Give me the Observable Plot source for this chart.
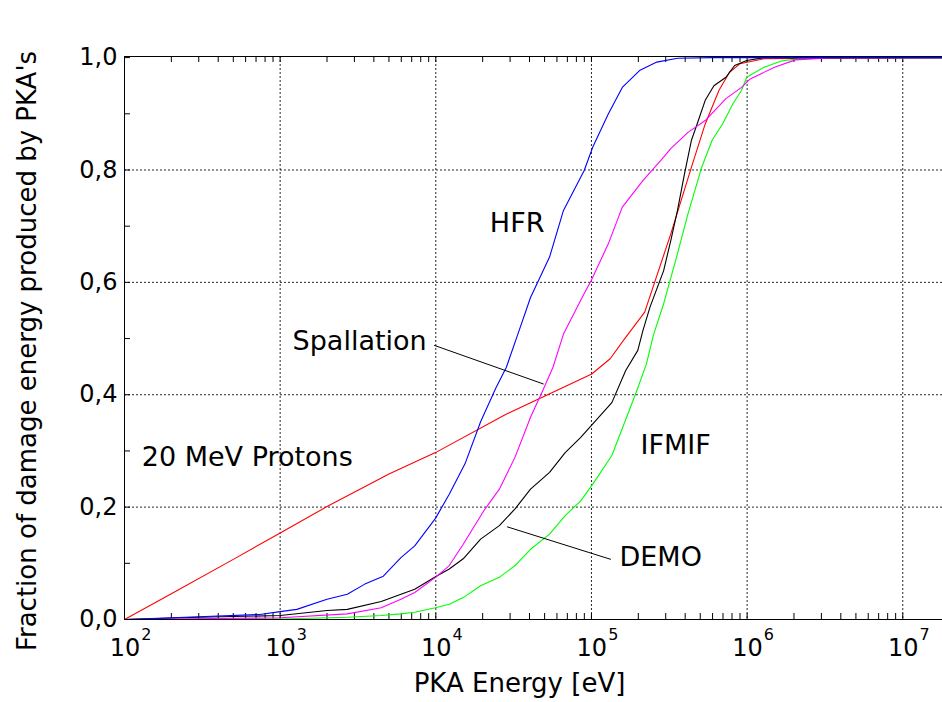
<!DOCTYPE html>
<html>
<head>
<meta charset="utf-8">
<script src="https://cdn.jsdelivr.net/npm/d3@7"></script>
<script src="https://cdn.jsdelivr.net/npm/@observablehq/plot@0.6"></script>
<style>
  html, body { margin: 0; padding: 0; background: #fff; }
  #chart svg { display: block; }
</style>
</head>
<body>
<div id="chart"></div>
<script>
// ---------- Data ----------
const seriesNames = ["20 MeV Protons", "IFMIF", "DEMO", "Spallation", "HFR"];
const seriesColors = ["#ff0000", "#00ff00", "#000000", "#ff00ff", "#0000ff"];

// 20 MeV Protons (red)
const protonE = [100, 200, 500, 1000, 2000, 5000, 9950, 27700, 100400, 131900, 161800, 219800, 323000, 439000, 538000, 660000, 771000, 898000, 1.285e6, 1.8e7];
const protonF = [0, 0.046, 0.107, 0.154, 0.201, 0.259, 0.297, 0.364, 0.437, 0.464, 0.498, 0.547, 0.686, 0.805, 0.882, 0.942, 0.974, 0.989, 0.998, 1.0];

// IFMIF (green)
const ifmifE = [100, 1000, 2710, 4460, 5970, 7330, 9950, 12200, 15000, 19400, 25600, 32300, 40600, 53800, 67800, 85300, 102000, 135200, 161800, 193600, 225500, 250000, 291000, 357000, 417000, 511000, 596000, 695000, 811000, 921000, 995000, 1.285e6, 1.66e6, 2.14e6, 2.77e6, 1.8e7];
const ifmifF = [0, 0.001, 0.004, 0.007, 0.010, 0.013, 0.021, 0.027, 0.039, 0.060, 0.075, 0.096, 0.125, 0.152, 0.185, 0.211, 0.241, 0.292, 0.348, 0.404, 0.455, 0.506, 0.562, 0.651, 0.722, 0.805, 0.853, 0.882, 0.918, 0.942, 0.965, 0.983, 0.994, 0.998, 1.0, 1.0];

// DEMO (black)
const demoE = [100, 300, 1000, 2000, 2700, 4460, 5970, 7320, 9950, 12200, 15000, 19400, 25600, 32300, 40600, 53800, 67800, 85300, 102000, 135200, 166000, 198500, 214000, 237700, 291000, 323000, 357000, 396000, 439000, 486000, 538000, 612000, 731000, 831000, 995000, 1.285e6, 1.8e7];
const demoF = [0, 0.004, 0.007, 0.016, 0.018, 0.032, 0.045, 0.054, 0.076, 0.090, 0.108, 0.143, 0.167, 0.197, 0.232, 0.262, 0.297, 0.324, 0.348, 0.386, 0.443, 0.479, 0.514, 0.556, 0.621, 0.674, 0.728, 0.793, 0.853, 0.888, 0.924, 0.950, 0.965, 0.986, 0.995, 1.0, 1.0];

// Spallation (magenta)
const spallE = [100, 1000, 2700, 4460, 5970, 7320, 9950, 12200, 15000, 20400, 25600, 32300, 40600, 48600, 56600, 66100, 89800, 99500, 128500, 157800, 214000, 291000, 323000, 417000, 538000, 731000, 921000, 1.047e6, 1.5e6, 2.04e6, 3.57e6, 1.8e7];
const spallF = [0, 0.003, 0.010, 0.021, 0.036, 0.048, 0.075, 0.096, 0.134, 0.194, 0.232, 0.289, 0.360, 0.407, 0.449, 0.508, 0.580, 0.603, 0.669, 0.734, 0.781, 0.823, 0.838, 0.867, 0.888, 0.927, 0.947, 0.962, 0.983, 0.996, 1.0, 1.0];

// HFR (blue)
const hfrE = [100, 300, 740, 1000, 1280, 2000, 2700, 3500, 4600, 5970, 7320, 9950, 12200, 15400, 19400, 24400, 28400, 33500, 40600, 53800, 66100, 89800, 102000, 128500, 157800, 203600, 263000, 357000, 600000, 1.8e7];
const hfrF = [0, 0.005, 0.009, 0.014, 0.018, 0.036, 0.045, 0.063, 0.077, 0.110, 0.131, 0.180, 0.223, 0.277, 0.352, 0.413, 0.449, 0.506, 0.573, 0.645, 0.728, 0.799, 0.841, 0.900, 0.947, 0.977, 0.992, 0.999, 1.0, 1.0];

// Axes
const xMin = 100, xMax = 1.8e7, yTop = 1.002;
const xMajor = [1e2, 1e3, 1e4, 1e5, 1e6, 1e7];
const xGrid = [1e3, 1e4, 1e5, 1e6, 1e7];
const xMinorMult = [2, 3, 4, 5, 6, 7, 8, 9];
const yMajor = [0, 0.2, 0.4, 0.6, 0.8, 1.0];
const yGrid = [0.2, 0.4, 0.6, 0.8];
const yMinor = [0.1, 0.3, 0.5, 0.7, 0.9];

// Annotations
const labelText = ["HFR", "Spallation", "20 MeV Protons", "IFMIF", "DEMO"];
const labelE = [33300, 3240, 615, 347500, 278600];
const labelF = [0.705, 0.495, 0.288, 0.310, 0.111];
const leaderE1 = [9750, 28700];
const leaderF1 = [0.488, 0.165];
const leaderE2 = [49300, 133300];
const leaderF2 = [0.419, 0.107];

const xTitle = "PKA Energy [eV]";
const yTitle = "Fraction of damage energy produced by PKA's";

// ---------- Build tables ----------
const seriesE = [protonE, ifmifE, demoE, spallE, hfrE];
const seriesF = [protonF, ifmifF, demoF, spallF, hfrF];
const rows = seriesNames.flatMap((name, s) => seriesE[s].map((e, i) => ({name, e, f: seriesF[s][i]})));
const xTicks = xMajor.slice(0, -1).flatMap(m => [m, ...xMinorMult.map(k => k * m)]).concat([1e7]);
const yTicksAll = yMajor.concat(yMinor);
const labels = labelText.map((t, i) => ({t, e: labelE[i], f: labelF[i]}));
const leaders = leaderE1.map((e, i) => ({e1: e, f1: leaderF1[i], e2: leaderE2[i], f2: leaderF2[i]}));

const W = 942, H = 702, mL = 124, mR = 0, mT = 56, mB = 83;
const frameH = H - mT - mB, frameW = W - mL - mR;

const plot = Plot.plot({
  width: W, height: H,
  marginLeft: mL, marginRight: mR, marginTop: mT, marginBottom: mB,
  style: {fontFamily: "'DejaVu Sans', sans-serif", fontSize: "24px", background: "#fff", color: "#000"},
  x: {type: "log", domain: [xMin, xMax]},
  y: {domain: [0, yTop]},
  color: {domain: seriesNames, range: seriesColors},
  marks: [
    Plot.gridX(xGrid, {stroke: "#000", strokeOpacity: 0.85, strokeDasharray: "2,2"}),
    Plot.gridY(yGrid, {stroke: "#000", strokeOpacity: 0.85, strokeDasharray: "2,2"}),
    Plot.ruleX([xMin], {stroke: "#000"}),
    Plot.ruleY([0], {stroke: "#000"}),
    Plot.ruleY([yTop], {stroke: "#000"}),
    Plot.tickX(xTicks, {x: d => d, insetTop: frameH - 6, stroke: "#000"}),
    Plot.tickX(xTicks, {x: d => d, insetBottom: frameH - 6, stroke: "#000"}),
    Plot.tickY(yTicksAll, {y: d => d, insetRight: frameW - 6, stroke: "#000"}),
    Plot.line(rows, {x: "e", y: "f", z: "name", stroke: "name", strokeWidth: 1.1, clip: true}),
    Plot.link(leaders, {x1: "e1", y1: "f1", x2: "e2", y2: "f2", stroke: "#000", strokeWidth: 1}),
    Plot.text(labels, {x: "e", y: "f", text: "t", fontSize: 27, textAnchor: "middle", lineAnchor: "middle", fill: "#000"}),
    Plot.axisX(xMajor, {tickSize: 0, tickPadding: 19, dx: 6, fontSize: 24, label: null,
      tickFormat: d => "10^" + Math.round(Math.log10(d))}),
    Plot.axisY(yMajor, {tickSize: 0, tickPadding: 7, fontSize: 24, label: null,
      tickFormat: d => d.toFixed(1).replace(".", ",")}),
    Plot.text([yTitle], {frameAnchor: "left", text: d => d, rotate: -90, dx: -97, dy: 13,
      textAnchor: "middle", lineAnchor: "middle", fontSize: 26, fill: "#000"}),
    Plot.text([xTitle], {frameAnchor: "bottom", text: d => d, dx: -14, dy: 54,
      textAnchor: "middle", lineAnchor: "top", fontSize: 26, fill: "#000"})
  ]
});

// Superscript exponents on the x tick labels
d3.select(plot).selectAll('g[aria-label="x-axis tick label"] text').each(function () {
  const parts = this.textContent.split("^");
  if (parts.length !== 2) return;
  const sel = d3.select(this);
  sel.text(null);
  sel.append("tspan").text(parts[0]);
  sel.append("tspan").attr("dx", 1).attr("dy", -16).attr("font-size", 16).text(parts[1]);
});

document.getElementById("chart").appendChild(plot);
</script>
</body>
</html>
